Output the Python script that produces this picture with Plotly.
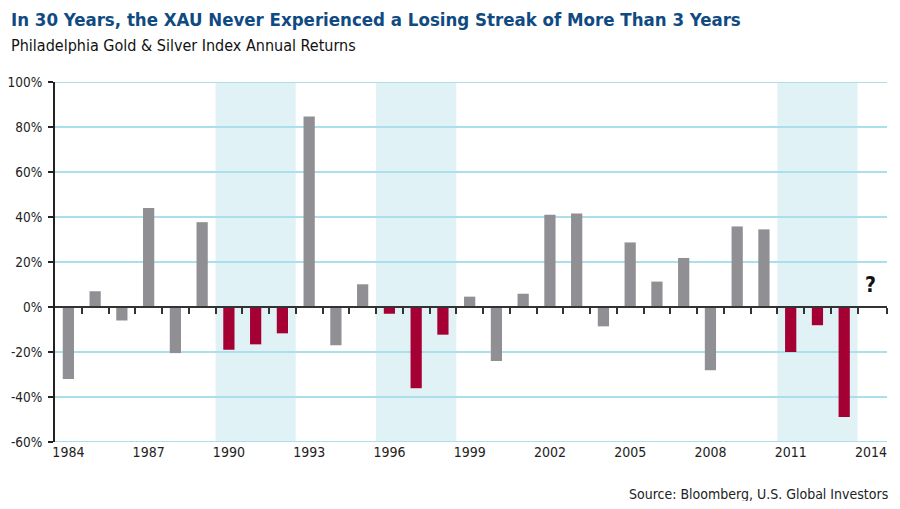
import plotly.graph_objects as go

years = list(range(1984, 2014))
returns = [-32, 7, -6, 44, -20.5, 37.7, -19, -16.6, -11.7, 84.7, -17, 10.1,
           -3, -36.1, -12.3, 4.6, -24, 5.9, 41, 41.6, -8.6, 28.7, 11.3, 21.8,
           -28.1, 35.8, 34.5, -20, -8.1, -48.9]
streak_periods = [(1990, 1992), (1996, 1998), (2011, 2013)]
tick_years = list(range(1984, 2015, 3))
y_ticks = [-60, -40, -20, 0, 20, 40, 60, 80, 100]

GRAY = "#909094"
RED = "#A50034"
SHADE = "#E1F2F7"
GRID = "#ABDFEB"
FONT = "DejaVu Sans Condensed, Liberation Sans Narrow, sans-serif"

# page body has an 8px default margin, so the figure is sized to fit the 900x509 window
W, H = 884, 493
L, R, T, B = 46.5, 5, 74, 59
PW = W - L - R
PH = H - T - B

def in_streak(y):
    return any(a <= y <= b for a, b in streak_periods)

colors = [RED if in_streak(y) else GRAY for y in years]

fig = go.Figure()
fig.add_trace(go.Bar(x=years, y=returns, marker=dict(color=colors, line=dict(width=0)),
                     width=0.42, hoverinfo="x+y"))

shapes = []
for a, b in streak_periods:
    shapes.append(dict(type="rect", xref="x", yref="paper", x0=a - 0.5, x1=b + 0.5,
                       y0=0, y1=1, fillcolor=SHADE, line=dict(width=0), layer="below"))

fig.update_layout(
    width=W, height=H,
    margin=dict(l=L, r=R, t=T, b=B, pad=0, autoexpand=False),
    plot_bgcolor="white", paper_bgcolor="white",
    showlegend=False,
    shapes=shapes,
    font=dict(family=FONT, color="#222222", size=14),
    xaxis=dict(range=[1983.5, 2014.6], tickvals=tick_years, ticktext=[str(t) for t in tick_years],
               showgrid=False, zeroline=False, showline=False, ticks="", automargin=False,
               tickfont=dict(size=14, color="#222222", family=FONT)),
    xaxis2=dict(range=[1983.5, 2014.6], overlaying="x", anchor="free", position=0.375,
                tickvals=[y + 0.5 for y in range(1984, 2014)] + [2014.6], automargin=False,
                showticklabels=False, ticks="outside", ticklen=6, tickwidth=1.5, tickcolor="#333333",
                showline=True, linecolor="#333333", linewidth=2, showgrid=False, zeroline=False),
    yaxis=dict(range=[-60, 100], tickvals=y_ticks, ticktext=[f"{v}%" for v in y_ticks],
               showgrid=True, gridcolor=GRID, gridwidth=2, zeroline=False, automargin=False,
               showline=True, linecolor="#222222", linewidth=2,
               ticks="outside", ticklen=5, tickwidth=1.5, tickcolor="#222222",
               ticklabelstandoff=3,
               tickfont=dict(size=13.5, color="#222222", family=FONT)),
)
# invisible trace carrying the zero-line axis
fig.add_trace(go.Scatter(x=[1984], y=[0], xaxis="x2", mode="markers",
                         marker=dict(opacity=0), hoverinfo="skip"))

# light-blue gridlines drawn over the shaded periods
for v in y_ticks:
    if v != 0:
        fig.add_shape(type="line", xref="paper", yref="y", x0=0, x1=1, y0=v, y1=v,
                      line=dict(color=GRID, width=2), layer="below")

fig.add_annotation(text="<b>In 30 Years, the XAU Never Experienced a Losing Streak of More Than 3 Years</b>",
                   xref="paper", yref="paper", x=-L / PW, y=1 + 62 / PH, xanchor="left", yanchor="middle",
                   showarrow=False, font=dict(size=18.5, color="#0F4A82", family=FONT))
fig.add_annotation(text="Philadelphia Gold & Silver Index Annual Returns",
                   xref="paper", yref="paper", x=-L / PW, y=1 + 36 / PH, xanchor="left", yanchor="middle",
                   showarrow=False, font=dict(size=16, color="#111111", family=FONT))
fig.add_annotation(text="Source: Bloomberg, U.S. Global Investors",
                   xref="paper", yref="paper", x=1 + 3 / PW, y=-52 / PH, xanchor="right", yanchor="middle",
                   showarrow=False, font=dict(size=14, color="#222222", family=FONT))
fig.add_annotation(text="<b>?</b>", x=2014, y=10, xref="x", yref="y", showarrow=False,
                   font=dict(size=21, color="#111111", family=FONT))

fig.write_html("out.html")
